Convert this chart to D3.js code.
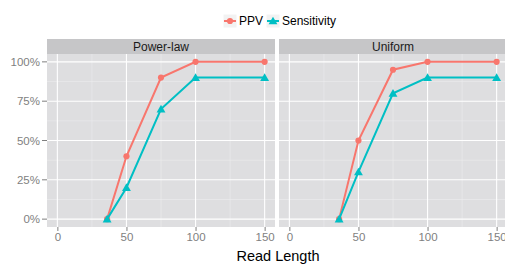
<!DOCTYPE html>
<html>
<head>
<meta charset="utf-8">
<script src="https://cdn.jsdelivr.net/npm/d3@7"></script>
<style>
  body { margin: 0; background: #fff; }
  text { font-family: "Liberation Sans", Arial, sans-serif; }
</style>
</head>
<body>
<div id="chart"></div>
<script>
// data
var readLength = [36, 50, 75, 100, 150];
var facets = ["Power-law", "Uniform"];
var seriesNames = ["PPV", "Sensitivity"];
var powerPPV = [0, 40, 90, 100, 100];
var powerSens = [0, 20, 70, 90, 90];
var uniformPPV = [0, 50, 95, 100, 100];
var uniformSens = [0, 30, 80, 90, 90];
var xTicks = [0, 50, 100, 150];
var yTicks = [0, 25, 50, 75, 100];

var colors = {"PPV": "#F8766D", "Sensitivity": "#00BFC4"};
var W = 505, H = 264;

var panelData = [
  {name: facets[0], series: [{key: "PPV", vals: powerPPV}, {key: "Sensitivity", vals: powerSens}]},
  {name: facets[1], series: [{key: "PPV", vals: uniformPPV}, {key: "Sensitivity", vals: uniformSens}]}
];

var svg = d3.select("#chart").append("svg")
  .attr("width", W).attr("height", H);

var panelTop = 54, panelBottom = 227, stripTop = 39;
var panelLefts = [47, 279], panelW = 228;

var y = d3.scaleLinear().domain([-5, 105]).range([panelBottom, panelTop]);

// y axis labels + ticks
var yAxisG = svg.append("g");
yTicks.forEach(function(t){
  yAxisG.append("line").attr("x1", 42).attr("x2", 47).attr("y1", y(t)).attr("y2", y(t))
    .attr("stroke", "#7F7F7F").attr("stroke-width", 1);
  yAxisG.append("text").attr("x", 40).attr("y", y(t)).attr("dy", "0.36em")
    .attr("text-anchor", "end").attr("font-size", "11.5px").attr("fill", "#7F7F7F")
    .text(t + "%");
});

var line = d3.line()
  .x(function(d){ return d.x; })
  .y(function(d){ return d.y; });

panelData.forEach(function(p, i){
  var left = panelLefts[i];
  var x = d3.scaleLinear().domain([-7.5, 157.5]).range([left, left + panelW]);
  var g = svg.append("g");

  // strip
  g.append("rect").attr("x", left).attr("y", stripTop).attr("width", panelW).attr("height", panelTop - stripTop)
    .attr("fill", "#C6C6C8");
  g.append("text").attr("x", left + panelW/2).attr("y", (stripTop + panelTop)/2).attr("dy", "0.36em")
    .attr("text-anchor", "middle").attr("font-size", "12px").attr("fill", "#1A1A1A").text(p.name);

  // panel
  g.append("rect").attr("x", left).attr("y", panelTop).attr("width", panelW).attr("height", panelBottom - panelTop)
    .attr("fill", "#DEDEE0");

  // minor grid
  [25, 75, 125].forEach(function(t){
    g.append("line").attr("x1", x(t)).attr("x2", x(t)).attr("y1", panelTop).attr("y2", panelBottom)
      .attr("stroke", "#EDEDEE").attr("stroke-width", 0.6);
  });
  [12.5, 37.5, 62.5, 87.5].forEach(function(t){
    g.append("line").attr("x1", left).attr("x2", left + panelW).attr("y1", y(t)).attr("y2", y(t))
      .attr("stroke", "#EDEDEE").attr("stroke-width", 0.6);
  });
  // major grid
  xTicks.forEach(function(t){
    g.append("line").attr("x1", x(t)).attr("x2", x(t)).attr("y1", panelTop).attr("y2", panelBottom)
      .attr("stroke", "#fff").attr("stroke-width", 1.1);
  });
  yTicks.forEach(function(t){
    g.append("line").attr("x1", left).attr("x2", left + panelW).attr("y1", y(t)).attr("y2", y(t))
      .attr("stroke", "#fff").attr("stroke-width", 1.1);
  });

  // x axis
  var xAxis = d3.axisBottom(x).tickValues(xTicks).tickSize(4).tickPadding(2);
  var ax = g.append("g").attr("transform", "translate(0," + panelBottom + ")").call(xAxis);
  ax.select(".domain").remove();
  ax.selectAll("line").attr("stroke", "#7F7F7F");
  ax.selectAll("text").attr("font-size", "11.5px").attr("fill", "#7F7F7F")
    .attr("font-family", "Liberation Sans, Arial, sans-serif");

  // series
  p.series.forEach(function(s){
    var pts = readLength.map(function(r, j){ return {x: x(r), y: y(s.vals[j])}; });
    g.append("path").attr("d", line(pts)).attr("fill", "none")
      .attr("stroke", colors[s.key]).attr("stroke-width", 2);
    var sym = d3.symbol().type(s.key === "PPV" ? d3.symbolCircle : d3.symbolTriangle)
      .size(s.key === "PPV" ? 30 : 34);
    g.selectAll(".pt-" + s.key).data(pts).enter().append("path")
      .attr("transform", function(d){ return "translate(" + d.x + "," + (d.y + (s.key === "PPV" ? 0 : 0.8)) + ")"; })
      .attr("d", sym).attr("fill", colors[s.key]);
  });
});

// x axis title
svg.append("text").attr("x", 278).attr("y", 261).attr("text-anchor", "middle")
  .attr("font-size", "14.5px").attr("fill", "#000").text("Read Length");

// legend
var legend = svg.append("g");
var legendItems = [{key: seriesNames[0], kx: 223, tx: 239}, {key: seriesNames[1], kx: 266, tx: 282}];
legendItems.forEach(function(it){
  legend.append("rect").attr("x", it.kx).attr("y", 14).attr("width", 14).attr("height", 14)
    .attr("fill", "#F2F2F2").attr("stroke", "#fff");
  legend.append("line").attr("x1", it.kx + 1).attr("x2", it.kx + 13).attr("y1", 21).attr("y2", 21)
    .attr("stroke", colors[it.key]).attr("stroke-width", 2);
  var sym = d3.symbol().type(it.key === "PPV" ? d3.symbolCircle : d3.symbolTriangle).size(it.key === "PPV" ? 30 : 34);
  legend.append("path").attr("transform", "translate(" + (it.kx + 7) + "," + (it.key === "PPV" ? 21 : 21.8) + ")")
    .attr("d", sym).attr("fill", colors[it.key]);
  legend.append("text").attr("x", it.tx).attr("y", 21).attr("dy", "0.36em")
    .attr("font-size", "12px").attr("fill", "#000").text(it.key);
});
</script>
</body>
</html>
